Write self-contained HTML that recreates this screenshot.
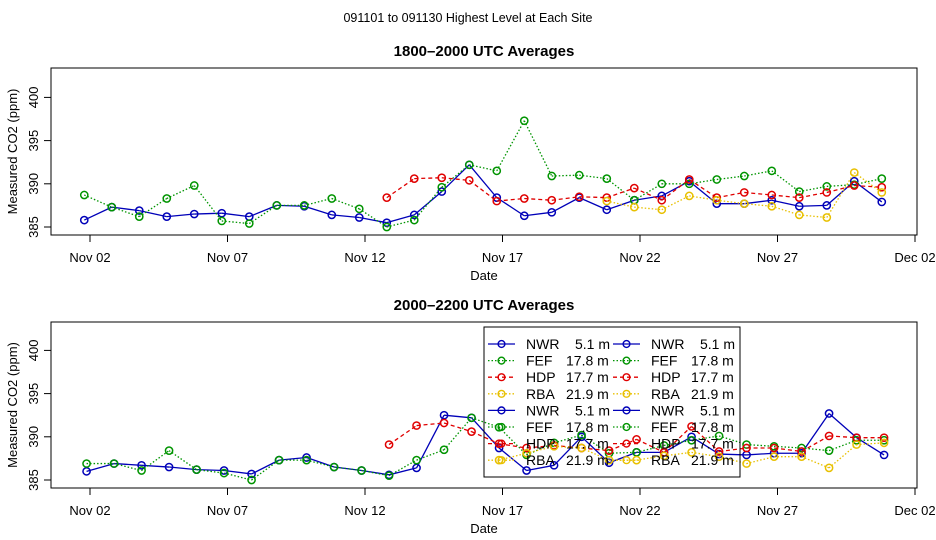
<!DOCTYPE html>
<html><head><meta charset="utf-8"><style>
html,body{margin:0;padding:0;background:#fff;}
svg{display:block;font-family:"Liberation Sans",sans-serif;}
</style></head><body>
<svg id="chart" width="936" height="540" viewBox="0 0 936 540">
<text x="468" y="22" font-size="12.5" text-anchor="middle">091101  to  091130 Highest Level at Each Site</text>
<g id="p1"></g>
<g id="p2"></g>
</svg>
<script>
const days = [1,2,3,4,5,6,7,8,9,10,11,12,13,14,15,16,17,18,19,20,21,22,23,24,25,26,27,28,29,30];
const xTickLabels = ["Nov 02","Nov 07","Nov 12","Nov 17","Nov 22","Nov 27","Dec 02"];
const xTickDays = [2,7,12,17,22,27,32];
const yTicks = [385,390,395,400];
const N = null;
// Panel 1: 1800-2000 UTC
const p1NWR = [385.8,387.3,386.9,386.2,386.5,386.6,386.2,387.5,387.4,386.4,386.1,385.5,386.4,389.1,392.2,388.4,386.3,386.7,388.4,387.0,388.1,388.6,390.3,387.7,387.7,388.1,387.4,387.5,390.3,387.9];
const p1FEF = [388.7,387.3,386.2,388.3,389.8,385.7,385.4,387.5,387.5,388.3,387.1,385.0,385.8,389.6,392.2,391.5,397.3,390.9,391.0,390.6,388.1,390.0,390.0,390.5,390.9,391.5,389.1,389.7,389.9,390.6];
const p1HDP = [N,N,N,N,N,N,N,N,N,N,N,388.4,390.6,390.7,390.4,388.0,388.3,388.1,388.5,388.4,389.5,388.1,390.5,388.4,389.0,388.7,388.4,389.0,389.8,389.6];
const p1RBA = [N,N,N,N,N,N,N,N,N,N,N,N,N,N,N,N,N,N,N,388.0,387.3,387.0,388.6,388.1,387.7,387.4,386.4,386.1,391.3,389.0];
// Panel 2: 2000-2200 UTC
const p2NWR = [386.0,386.9,386.7,386.5,386.2,386.1,385.7,387.3,387.6,386.5,386.1,385.6,386.4,392.5,392.2,388.7,386.1,386.7,390.0,387.0,388.2,388.2,390.0,388.0,387.9,388.1,388.1,392.7,389.9,387.9];
const p2FEF = [386.9,386.9,386.1,388.4,386.2,385.8,385.0,387.3,387.3,386.5,386.1,385.5,387.3,388.5,392.2,391.1,387.9,389.3,390.2,388.1,388.2,389.0,389.6,390.1,389.1,388.9,388.7,388.4,389.6,389.6];
const p2HDP = [N,N,N,N,N,N,N,N,N,N,N,389.1,391.3,391.6,390.6,389.2,388.7,389.0,388.7,388.4,389.7,388.2,391.2,388.3,388.7,388.7,388.3,390.1,389.9,389.9];
const p2RBA = [N,N,N,N,N,N,N,N,N,N,N,N,N,N,N,387.3,388.1,388.9,388.7,387.3,387.3,387.8,388.2,387.7,386.9,387.7,387.7,386.4,389.1,389.3];

const NS="http://www.w3.org/2000/svg";
function mk(tag,attrs,parent){const e=document.createElementNS(NS,tag);for(const k in attrs)e.setAttribute(k,attrs[k]);parent.appendChild(e);return e;}
const styles=[
 {name:"nwr",color:"#0000b8",dash:""},
 {name:"fef",color:"#009400",dash:"1.5,2"},
 {name:"hdp",color:"#e00000",dash:"4,3"},
 {name:"rba",color:"#e8c000",dash:"1.5,2"}];

function panel(g,top,bottom,title,hourFrac,series){
  const L=51,R=917;
  const xs=d=>90+27.5*(d-2);
  const ys=v=>(bottom-8)-(v-385)*8.64;
  const box=mk('rect',{x:L,y:top,width:R-L,height:bottom-top,fill:'none',stroke:'#000','stroke-width':1},g);
  
  
  const t=mk('text',{x:484,y:top-12,'font-size':15,'font-weight':'bold','text-anchor':'middle'},g);t.textContent=title;
  
  
  xTickDays.forEach((d,i)=>{
    const x=xs(d);
    const tk=mk('line',{x1:x,x2:x,y1:bottom,y2:bottom+7,stroke:'#000'},g);
    
    
    const tl=mk('text',{x:x,y:bottom+27,'font-size':13,'text-anchor':'middle'},g);tl.textContent=xTickLabels[i];
    
    
  });
  yTicks.forEach(v=>{
    const y=ys(v);
    const tk=mk('line',{x1:L-7,x2:L,y1:y,y2:y,stroke:'#000'},g);
    
    
    const tl=mk('text',{x:0,y:0,'font-size':13,'text-anchor':'middle',transform:`translate(${L-13},${y}) rotate(-90)`},g);tl.textContent=v;
    
    
  });
  const xl=mk('text',{x:484,y:bottom+45,'font-size':13,'text-anchor':'middle'},g);xl.textContent='Date';
  
  
  const yl=mk('text',{x:0,y:0,'font-size':13,'text-anchor':'middle',transform:`translate(17,${(top+bottom)/2}) rotate(-90)`},g);yl.textContent='Measured CO2 (ppm)';
  
  
  series.forEach((vals,si)=>{
    const st=styles[si];
    const sg=mk('g',{},g);
    
    
    for(let i=1;i<vals.length;i++){
      if(vals[i]==null||vals[i-1]==null)continue;
      const ln=mk('line',{x1:xs(days[i-1]+hourFrac),y1:ys(vals[i-1]),x2:xs(days[i]+hourFrac),y2:ys(vals[i]),stroke:st.color,'stroke-width':1.3,'stroke-dasharray':st.dash},sg);
      
      
    }
    vals.forEach((v,i)=>{
      if(v==null)return;
      const c=mk('circle',{cx:xs(days[i]+hourFrac),cy:ys(v),r:3.6,fill:'none',stroke:st.color,'stroke-width':1.5},sg);
      
      
    });
  });
}
panel(document.getElementById('p1'),68,235,'1800\u20132000 UTC Averages',19/24,[p1NWR,p1FEF,p1HDP,p1RBA]);
panel(document.getElementById('p2'),322,488,'2000\u20132200 UTC Averages',21/24,[p2NWR,p2FEF,p2HDP,p2RBA]);

// legend
const lg=mk('g',{},document.getElementById('p2'));


const lb=mk('rect',{x:484,y:327,width:256,height:150,fill:'none',stroke:'#000'},lg);


const legNames=["NWR","FEF","HDP","RBA"];
const legHeights=["5.1 m","17.8 m","17.7 m","21.9 m"];
for(let r=0;r<8;r++){
  const k=r%4, st=styles[k], y=344+r*16.6;
  [[488,526,566],[613,651,691]].forEach(c=>{
    const e=mk('g',{},lg);
    
    
    mk('line',{x1:c[0],x2:c[0]+27,y1:y,y2:y,stroke:st.color,'stroke-width':1.3,'stroke-dasharray':st.dash},e);
    mk('circle',{cx:c[0]+13.5,cy:y,r:3.4,fill:'none',stroke:st.color,'stroke-width':1.4},e);
    const t1=mk('text',{x:c[1],y:y+5,'font-size':14},e);t1.textContent=legNames[k];
    const t2=mk('text',{x:c[2]+(k==0?9:0),y:y+5,'font-size':14},e);t2.textContent=legHeights[k];
  });
}
</script>
</body></html>
